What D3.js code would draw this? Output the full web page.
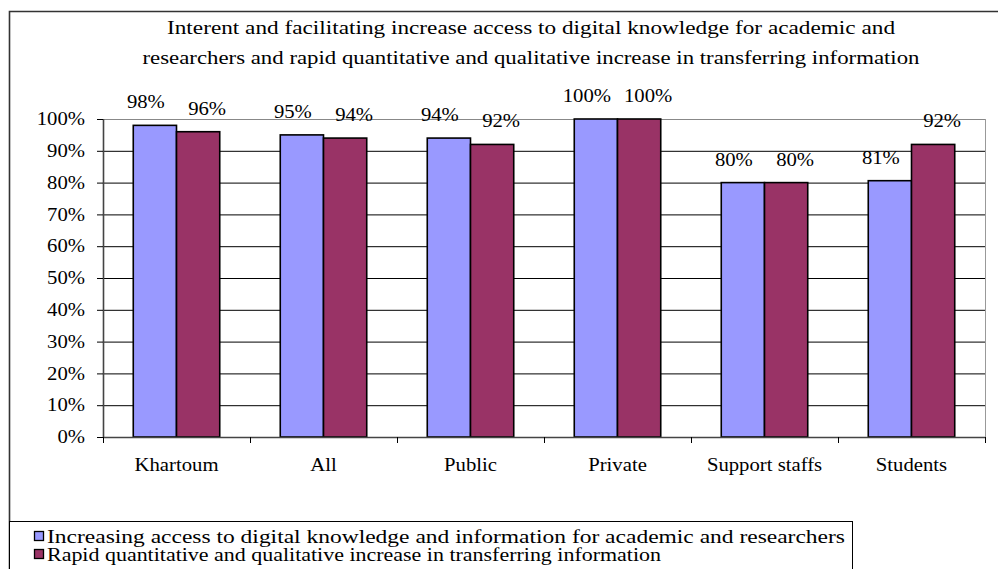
<!DOCTYPE html>
<html>
<head>
<meta charset="utf-8">
<script src="https://cdn.jsdelivr.net/npm/d3@7"></script>
<style>
  html, body { margin: 0; padding: 0; background: #fff; }
  svg { display: block; }
  svg text { font-family: "Liberation Serif", "Times New Roman", Times, serif !important; fill: #000; }
</style>
</head>
<body>
<svg id="chart" width="998" height="569"></svg>
<script>
const categories = ["Khartoum", "All", "Public", "Private", "Support staffs", "Students"];
const seriesNames = [
  "Increasing access to digital knowledge and information for academic and researchers",
  "Rapid quantitative and qualitative increase in transferring information"
];
const seriesA = [98, 95, 94, 100, 80, 80.6];
const seriesB = [96, 94, 92, 100, 80, 92];
const labelsA = ["98%", "95%", "94%", "100%", "80%", "81%"];
const labelsB = ["96%", "94%", "92%", "100%", "80%", "92%"];
const yTicks = [0, 10, 20, 30, 40, 50, 60, 70, 80, 90, 100];
const titleLines = [
  "Interent and facilitating increase access to digital knowledge for academic and",
  "researchers and rapid quantitative and qualitative increase in transferring information"
];
const colors = ["#9999FF", "#993366"];

const svg = d3.select("#chart");
const plot = { left: 103, right: 985, top: 119, bottom: 437 };
const STRETCH = 1.15;
const LABEL_SHIFT = [-9, 9];

function stretch(sel) {
  sel.each(function () {
    const l = this.getComputedTextLength();
    d3.select(this).attr("textLength", l * STRETCH).attr("lengthAdjust", "spacingAndGlyphs");
  });
}

// outer border
svg.append("path")
  .attr("d", `M9.5,${575} L9.5,11.5 L1005,11.5`)
  .attr("fill", "none").attr("stroke", "#333").attr("stroke-width", 1.6);

// title
svg.selectAll("text.title").data(titleLines).enter().append("text")
  .attr("class", "title")
  .attr("x", 531).attr("y", (d, i) => 34 + i * 30)
  .attr("text-anchor", "middle")
  .style("font-size", "18px")
  .text(d => d)
  .each(function (d, i) {
    d3.select(this).attr("textLength", i === 0 ? 728 : 777).attr("lengthAdjust", "spacingAndGlyphs");
  });

const x0 = d3.scaleBand().domain(categories).range([plot.left, plot.right]).paddingInner(0).paddingOuter(0);
const x1 = d3.scaleBand().domain([0, 1]).range([0, x0.bandwidth()]).paddingOuter(0.7).paddingInner(0);
const y = d3.scaleLinear().domain([0, 100]).range([plot.bottom, plot.top]);

// gridlines
svg.append("g").selectAll("line").data(yTicks.filter(t => t > 0)).enter().append("line")
  .attr("x1", plot.left).attr("x2", plot.right)
  .attr("y1", d => y(d) + 0.5).attr("y2", d => y(d) + 0.5)
  .attr("stroke", d => d === 100 ? "#888" : "#000").attr("stroke-width", 1);

// right plot border
svg.append("line")
  .attr("x1", plot.right + 0.5).attr("x2", plot.right + 0.5)
  .attr("y1", plot.top).attr("y2", plot.bottom)
  .attr("stroke", "#999").attr("stroke-width", 1);

// bars
const data = categories.map((c, i) => ({ c, vals: [seriesA[i], seriesB[i]], labs: [labelsA[i], labelsB[i]] }));
const groups = svg.append("g").selectAll("g").data(data).enter().append("g")
  .attr("transform", d => `translate(${x0(d.c)},0)`);
groups.selectAll("rect").data(d => d.vals.map((v, k) => ({ v, k }))).enter().append("rect")
  .attr("x", d => x1(d.k))
  .attr("y", d => y(d.v))
  .attr("width", x1.bandwidth())
  .attr("height", d => y(0) - y(d.v))
  .attr("fill", d => colors[d.k])
  .attr("stroke", "#000").attr("stroke-width", 1.6);

groups.selectAll("text").data(d => d.vals.map((v, k) => ({ v, k, lab: d.labs[k] }))).enter().append("text")
  .attr("x", d => x1(d.k) + x1.bandwidth() / 2 + LABEL_SHIFT[d.k])
  .attr("y", d => y(d.v) - 17)
  .attr("text-anchor", "middle")
  .style("font-size", "18px")
  .text(d => d.lab)
  .call(stretch);

// y axis
const yAxis = d3.axisLeft(y).tickValues(yTicks).tickSize(6).tickPadding(12).tickFormat(d => d + "%");
const gy = svg.append("g").attr("transform", `translate(${plot.left},0)`).call(yAxis);
gy.select(".domain").attr("stroke", "#444").attr("stroke-width", 1.6).attr("d", `M0.5,${plot.top}V${plot.bottom}`);
gy.selectAll(".tick line").attr("stroke", "#000");
gy.selectAll(".tick text").style("font-size", "18px").attr("fill", "#000").call(stretch);

// x axis
const xAxis = d3.axisBottom(x0).tickSize(0).tickPadding(21);
const gx = svg.append("g").attr("transform", `translate(0,${plot.bottom})`).call(xAxis);
gx.select(".domain").attr("stroke", "#444").attr("stroke-width", 1.6).attr("d", `M${plot.left},0.5H${plot.right}`);
gx.selectAll(".tick text").style("font-size", "18px").attr("fill", "#000").call(stretch);
// category separators
svg.append("g").selectAll("line").data(categories.map(c => x0(c)).concat([plot.right])).enter().append("line")
  .attr("x1", d => d + 0.5).attr("x2", d => d + 0.5)
  .attr("y1", plot.bottom).attr("y2", plot.bottom + 6)
  .attr("stroke", "#000").attr("stroke-width", 1);

// legend
const leg = svg.append("g");
leg.append("rect").attr("x", 9.5).attr("y", 521.5).attr("width", 843).attr("height", 80)
  .attr("fill", "#fff").attr("stroke", "#000").attr("stroke-width", 1);
const items = leg.selectAll("g.item").data(seriesNames).enter().append("g").attr("class", "item")
  .attr("transform", (d, i) => `translate(0,${537 + i * 18})`);
items.append("rect").attr("x", 34.5).attr("y", -5.5).attr("width", 9).attr("height", 9)
  .attr("fill", (d, i) => colors[i]).attr("stroke", "#000").attr("stroke-width", 1.3);
items.append("text").attr("x", 47).attr("y", 6)
  .style("font-size", "18px")
  .text(d => d)
  .each(function (d, i) {
    d3.select(this).attr("textLength", i === 0 ? 798 : 614).attr("lengthAdjust", "spacingAndGlyphs");
  });
</script>
</body>
</html>
